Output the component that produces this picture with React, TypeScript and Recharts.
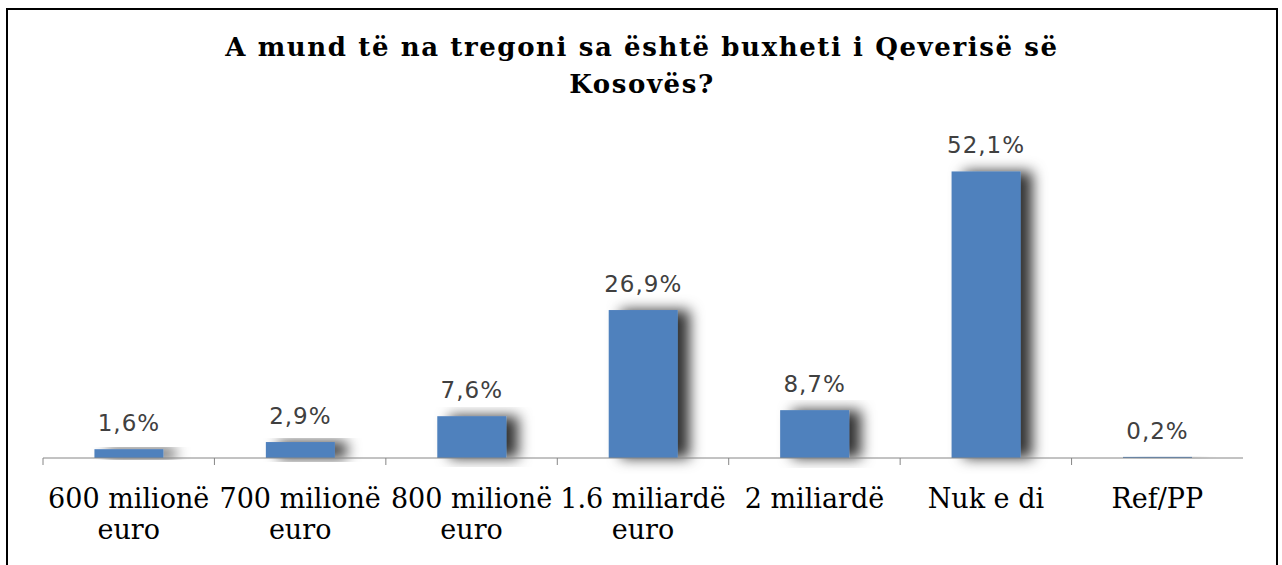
import { BarChart, Bar, XAxis, YAxis, LabelList } from "recharts";

const categories = [
  "600 milionë euro",
  "700 milionë euro",
  "800 milionë euro",
  "1.6 miliardë euro",
  "2 miliardë",
  "Nuk e di",
  "Ref/PP",
];
const shares = [1.6, 2.9, 7.6, 26.9, 8.7, 52.1, 0.2];
const titleLines = ["A mund të na tregoni sa është buxheti i Qeverisë së", "Kosovës?"];

const data = categories.map((name, i) => ({ name, value: shares[i] }));

const CHART_W = 1282;
const CHART_H = 550;
const MARGIN = { top: 128, right: 39, bottom: 12, left: 43 };
const PLOT_W = CHART_W - MARGIN.left - MARGIN.right;
const SERIF = "'DejaVu Serif', serif";

// long labels go on two lines, last word below
function splitLabel(label: string): string[] {
  if (label.length <= 12) return [label];
  const cut = label.lastIndexOf(" ");
  return [label.slice(0, cut), label.slice(cut + 1)];
}

function AxisTick(props: any) {
  const { x, y, payload } = props;
  const band = PLOT_W / categories.length;
  const left = x - band / 2;
  const lines = splitLabel(String(payload.value));
  return (
    <g>
      <line x1={left} y1={y} x2={left} y2={y + 7} stroke="#868686" strokeWidth={1} />
      <text x={x} y={y + 50} textAnchor="middle" fontFamily={SERIF} fontSize={27} fill="#000">
        {lines.map((l, i) => (
          <tspan key={i} x={x} dy={i === 0 ? 0 : 31}>
            {l}
          </tspan>
        ))}
      </text>
    </g>
  );
}

function ShadowBar(props: any) {
  const { x, y, width, height, fill } = props;
  if (height <= 0) return null;
  return <rect x={x} y={y} width={width} height={height} fill={fill} filter="url(#bar-shadow)" />;
}

export default function App() {
  return (
    <div style={{ position: "absolute", left: 0, top: 0, width: 1282, height: 565, overflow: "hidden", background: "#fff" }}>
      <div
        style={{
          position: "absolute",
          left: 6,
          top: 8,
          width: 1268,
          height: 620,
          border: "2px solid #000",
        }}
      />
      <div
        style={{
          position: "absolute",
          left: 0,
          top: 29,
          width: 1284,
          textAlign: "center",
          fontFamily: SERIF,
          fontWeight: "bold",
          fontSize: 26,
          letterSpacing: 1.6,
          lineHeight: "37px",
          color: "#000",
        }}
      >
        {titleLines.map((t) => (
          <div key={t}>{t}</div>
        ))}
      </div>
      <div style={{ position: "absolute", left: 0, top: 0, width: CHART_W, height: CHART_H }}>
        <BarChart width={CHART_W} height={CHART_H} data={data} margin={MARGIN} barCategoryGap="30%">
          <defs>
            <filter id="bar-shadow" x="-60%" y="-20%" width="240%" height="140%">
              <feDropShadow dx={12} dy={0} stdDeviation={7} floodColor="#000" floodOpacity={0.8} />
            </filter>
          </defs>
          <YAxis hide domain={[0, 60]} />
          <XAxis
            dataKey="name"
            stroke="#868686"
            tickLine={false}
            tickSize={0}
            tickMargin={0}
            height={80}
            interval={0}
            tick={<AxisTick />}
          />
          <Bar dataKey="value" fill="#4F81BD" isAnimationActive={false} shape={<ShadowBar />}>
            <LabelList
              dataKey="value"
              position="top"
              offset={18}
              formatter={(v: any) => `${String(v).replace(".", ",")}%`}
              style={{ fontFamily: "'DejaVu Sans', sans-serif", fontSize: 23, fill: "#404040", letterSpacing: 1 }}
            />
          </Bar>
        </BarChart>
      </div>
    </div>
  );
}
